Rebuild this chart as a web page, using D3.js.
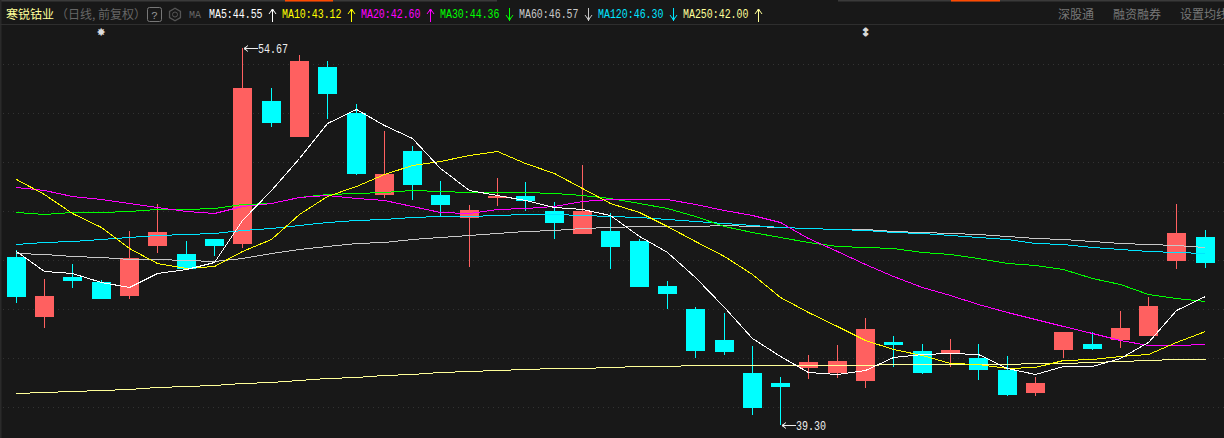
<!DOCTYPE html>
<html><head><meta charset="utf-8">
<script src="https://cdn.jsdelivr.net/npm/d3@7/dist/d3.min.js"></script>
<style>html,body{margin:0;padding:0;background:#181818;overflow:hidden}svg{display:block}</style>
</head><body><svg id="c" width="1224" height="438"></svg>
<script>
const opens=[46.15,43.70,45.33,45.13,44.55,46.59,46.27,46.88,46.68,52.51,51.04,53.89,52.02,48.67,50.47,48.67,47.74,48.55,48.63,48.02,47.08,47.21,46.80,44.96,44.03,42.76,41.41,41.01,41.62,41.41,41.09,42.67,42.31,42.23,42.03,41.54,40.60,42.35,42.60,42.76,42.92,45.98,46.96];
const closes=[44.51,44.55,45.17,44.43,46.11,47.17,45.66,46.59,53.04,51.61,54.14,52.79,49.53,49.53,49.08,48.27,48.06,48.63,48.43,47.53,48.02,46.55,44.92,44.64,42.31,42.27,39.99,40.84,41.86,41.90,43.21,42.56,41.41,42.35,41.54,40.52,41.01,43.09,42.39,43.25,44.15,47.13,45.90];
const highs=[46.43,45.25,45.86,45.21,47.21,48.31,46.80,46.88,54.67,53.04,54.38,54.14,52.38,51.28,50.67,49.24,48.27,49.37,49.20,48.39,49.90,47.94,46.88,45.17,44.11,43.86,42.52,41.25,42.15,42.56,43.66,42.92,42.60,42.80,42.60,42.11,41.25,43.09,43.09,43.94,44.51,48.31,47.25];
const lows=[44.27,43.25,44.88,44.43,44.43,46.31,45.66,46.19,46.51,51.45,51.04,51.77,49.49,48.55,48.47,47.82,45.74,48.23,48.02,46.88,47.08,45.66,44.92,44.03,42.03,42.15,39.70,39.30,41.17,41.21,40.80,41.66,41.37,41.66,41.13,40.48,40.48,42.03,42.35,42.43,42.92,45.66,45.70];
const ma5=[46.39,45.57,45.49,45.13,44.92,45.49,45.66,45.94,47.65,48.88,50.18,51.61,52.18,51.53,51.00,49.77,48.88,48.67,48.47,48.18,48.10,47.85,47.00,46.35,45.33,44.11,42.84,42.11,41.46,41.37,41.54,42.07,42.19,42.23,42.19,41.62,41.37,41.70,41.70,42.03,42.67,43.98,44.55];
const ma10=[49.33,48.71,47.94,47.37,46.51,45.90,45.70,45.78,46.39,46.88,47.90,48.63,49.04,49.53,49.90,50.06,50.31,50.47,49.98,49.57,48.96,48.35,47.98,47.41,46.80,46.19,45.45,44.51,43.90,43.33,42.76,42.39,42.15,41.82,41.78,41.62,41.66,41.95,41.99,42.11,42.19,42.67,43.12];
const ma20=[49.00,48.88,48.63,48.51,48.35,48.18,48.02,47.94,48.23,48.35,48.59,48.67,48.55,48.47,48.23,47.98,47.94,48.10,48.14,48.23,48.43,48.51,48.51,48.51,48.31,48.06,47.86,47.57,46.92,46.39,45.86,45.37,44.92,44.60,44.23,43.90,43.62,43.33,43.05,42.76,42.56,42.56,42.60];
const ma30=[47.98,47.90,47.98,47.98,48.02,48.10,48.10,48.14,48.31,48.35,48.59,48.71,48.76,48.80,48.88,48.84,48.80,48.80,48.80,48.76,48.67,48.55,48.35,48.14,47.82,47.41,47.17,46.96,46.76,46.59,46.55,46.51,46.35,46.27,46.11,45.90,45.82,45.66,45.29,45.04,44.64,44.47,44.36];
const ma60=[46.31,46.27,46.19,46.15,46.06,46.06,46.02,45.98,46.11,46.31,46.47,46.59,46.72,46.76,46.88,46.96,47.04,47.13,47.21,47.25,47.33,47.37,47.41,47.41,47.41,47.45,47.41,47.37,47.33,47.29,47.29,47.21,47.17,47.13,47.08,47.00,46.92,46.88,46.80,46.72,46.68,46.64,46.57];
const ma120=[46.68,46.76,46.80,46.88,46.96,47.04,47.08,47.13,47.25,47.33,47.45,47.57,47.65,47.69,47.78,47.82,47.82,47.86,47.90,47.90,47.86,47.82,47.78,47.69,47.61,47.53,47.45,47.37,47.33,47.29,47.25,47.17,47.13,47.04,46.96,46.88,46.72,46.68,46.55,46.47,46.39,46.35,46.30];
const ma250=[40.60,40.64,40.68,40.72,40.76,40.84,40.88,40.92,41.01,41.05,41.13,41.21,41.25,41.33,41.37,41.45,41.50,41.54,41.58,41.62,41.62,41.66,41.70,41.70,41.74,41.74,41.74,41.74,41.74,41.74,41.74,41.78,41.78,41.78,41.78,41.78,41.82,41.82,41.86,41.90,41.95,41.97,42.00];
const gridTicks=[54,52,50,48,46,44,42,40];
const maNames=["MA5","MA10","MA20","MA30","MA60","MA120","MA250"];
const maLast=["44.55","43.12","42.60","44.36","46.57","46.30","42.00"];
const maDirs=["up","up","up","down","down","down","up"];
const maColors=["#ffffff","#ffff00","#ff00ff","#00ff00","#c8c8c8","#00e5ff","#ffff99"];
const maSeries=[ma60,ma120,ma250,ma30,ma20,ma10,ma5];
const maSeriesColors=["#c8c8c8","#00e5ff","#ffff99","#00ff00","#ff00ff","#ffff00","#ffffff"];
const rightLinks=["深股通","融资融券","设置均线"];
const title="寒锐钴业", subtitle="（日线, 前复权）";
const maxLabel=54.67, minLabel=39.30, maxIndex=8, minIndex=27;

const RED="#ff6060", CYAN="#00ffff", BG="#181818";
const cjk='"Noto Sans CJK SC","Noto Sans",sans-serif', mono='"Liberation Mono","DejaVu Sans Mono",monospace';
const svg=d3.select("#c");
const x=d3.scaleLinear().domain([0,42]).range([16.3,1205.3]);
const y=d3.scaleLinear().domain([54,40]).range([64.4,407.7]);
const idx=d3.range(opens.length);

svg.append("rect").attr("width",1224).attr("height",438).attr("fill",BG);
const strip=[[0,497,"#3a3a3a"],[285,48,"#ff4a00"],[838,386,"#3a3a3a"],[951,49,"#ff4a00"]];
svg.selectAll("rect.s").data(strip).join("rect").attr("class","s").attr("x",d=>d[0]).attr("y",0).attr("width",d=>d[1]).attr("height",1.5).attr("fill",d=>d[2]);
svg.append("rect").attr("x",0).attr("y",0).attr("width",1.5).attr("height",438).attr("fill","#2a2a2a");
svg.append("rect").attr("x",0).attr("y",24).attr("width",1224).attr("height",1).attr("fill","#2e2e2e");

svg.append("g").selectAll("line").data(gridTicks).join("line")
 .attr("x1",3).attr("x2",1224).attr("y1",d=>Math.floor(y(d))+.5).attr("y2",d=>Math.floor(y(d))+.5)
 .attr("stroke","#333").attr("stroke-dasharray","1 4").attr("shape-rendering","crispEdges");

svg.append("text").attr("x",6).attr("y",19).attr("font-family",cjk).attr("font-size",12).attr("fill","#ffff99").text(title);
svg.append("text").attr("x",56).attr("y",19).attr("font-family",cjk).attr("font-size",12).attr("fill","#666").text(subtitle);
svg.append("rect").attr("x",147.5).attr("y",7.5).attr("width",14).attr("height",14).attr("rx",2).attr("fill","none").attr("stroke","#777");
svg.append("text").attr("x",154.5).attr("y",18.5).attr("text-anchor","middle").attr("font-family",mono).attr("font-size",11).attr("fill","#999").text("?");
const hex=d3.range(6).map(i=>{const a=Math.PI/3*i+Math.PI/6;return [175+6.3*Math.cos(a),14.5+6.3*Math.sin(a)];});
svg.append("path").attr("d",d3.line().curve(d3.curveLinearClosed)(hex)).attr("fill","none").attr("stroke","#555").attr("stroke-width",1.3);
svg.append("circle").attr("cx",175).attr("cy",14.5).attr("r",2.5).attr("fill","none").attr("stroke","#555");
svg.append("text").attr("x",189).attr("y",18).attr("font-family",mono).attr("font-size",11).attr("fill","#666").attr("textLength",12).attr("lengthAdjust","spacingAndGlyphs").text("MA");

const labelX=[209,282,361,440,519,598,683], arrowX=[272.5,351.5,430.5,509.5,588.5,673.5,758.5];
maNames.forEach((n,i)=>{
  const s=n+":"+maLast[i];
  svg.append("text").attr("x",labelX[i]).attr("y",18).attr("font-family",mono).attr("font-size",12)
    .attr("fill",maColors[i]).attr("textLength",s.length*5.95).attr("lengthAdjust","spacingAndGlyphs").text(s);
  const a=arrowX[i], up=maDirs[i]==="up";
  const d=up?`M${a},9V22M${a-3.5},14L${a},9L${a+3.5},14`:`M${a},8V21M${a-3.5},15L${a},20L${a+3.5},15`;
  svg.append("path").attr("d",d).attr("fill","none").attr("stroke",maColors[i]).attr("stroke-width",1);
  svg.append("circle").attr("cx",a).attr("cy",up?10.5:18.5).attr("r",1.2).attr("fill",maColors[i]);
});
const linkX=[1058,1113,1180];
rightLinks.forEach((t,i)=>svg.append("text").attr("x",linkX[i]).attr("y",19).attr("font-family",cjk).attr("font-size",12).attr("fill","#777").text(t));

svg.append("text").attr("x",101).attr("y",36).attr("text-anchor","middle").attr("font-family",'"DejaVu Sans"').attr("font-size",11).attr("fill","#ddd").text("✸");
svg.append("text").attr("x",865.5).attr("y",36).attr("text-anchor","middle").attr("font-family",'"DejaVu Sans"').attr("font-size",11).attr("font-weight","bold").attr("fill","#ddd").attr("stroke","#ddd").attr("stroke-width",.7).text("↕");

const col=i=>closes[i]>opens[i]?RED:CYAN;
const g=svg.append("g").attr("shape-rendering","crispEdges");
g.selectAll("rect.w").data(idx).join("rect").attr("class","w")
 .attr("x",i=>Math.floor(x(i))).attr("width",1)
 .attr("y",i=>Math.round(y(highs[i]))).attr("height",i=>Math.max(1,Math.round(y(lows[i]))-Math.round(y(highs[i]))))
 .attr("fill",col);
g.selectAll("rect.b").data(idx).join("rect").attr("class","b")
 .attr("x",i=>Math.floor(x(i))-9).attr("width",19)
 .attr("y",i=>Math.round(y(Math.max(opens[i],closes[i]))))
 .attr("height",i=>Math.max(1,Math.round(y(Math.min(opens[i],closes[i])))-Math.round(y(Math.max(opens[i],closes[i])))))
 .attr("fill",col);

const line=d3.line().x((d,i)=>Math.floor(x(i))+.5).y(d=>Math.round(y(d))+.5);
svg.append("g").selectAll("path").data(maSeries).join("path").attr("d",line).attr("fill","none")
 .attr("stroke",(d,i)=>maSeriesColors[i]).attr("stroke-width",1).attr("shape-rendering","crispEdges");

[[maxIndex,maxLabel],[minIndex,minLabel]].forEach(([i,v])=>{
  const a=Math.floor(x(i))+2, yy=Math.round(y(v))+.5;
  svg.append("path").attr("d",`M${a+14},${yy}H${a}M${a+4},${yy-3}L${a},${yy}L${a+4},${yy+3}`).attr("fill","none").attr("stroke","#eee").attr("stroke-width",1);
  svg.append("circle").attr("cx",a+1.5).attr("cy",yy).attr("r",1.2).attr("fill","#eee");
  const s=v.toFixed(2);
  svg.append("text").attr("x",a+14).attr("y",yy+4).attr("font-family",mono).attr("font-size",12).attr("fill","#eee")
    .attr("textLength",s.length*6).attr("lengthAdjust","spacingAndGlyphs").text(s);
});
</script></body></html>
